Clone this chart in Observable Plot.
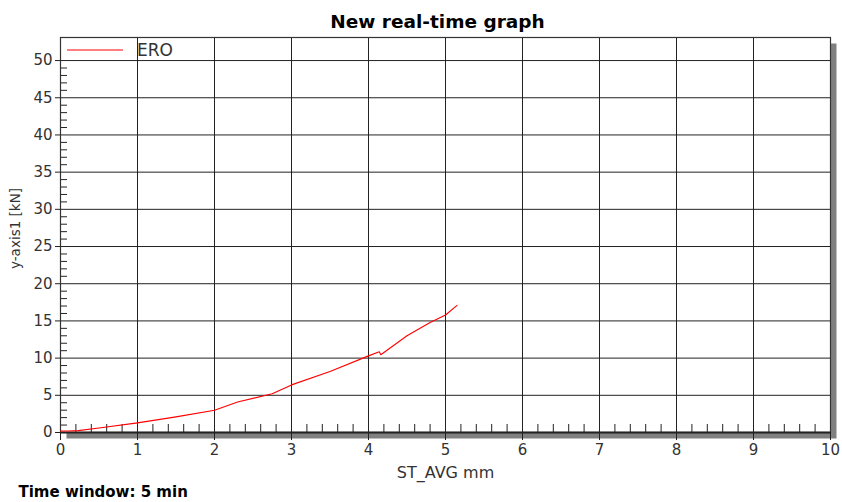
<!DOCTYPE html>
<html>
<head>
<meta charset="utf-8">
<script src="https://cdn.jsdelivr.net/npm/d3@7"></script>
<script src="https://cdn.jsdelivr.net/npm/@observablehq/plot@0.6"></script>
<style>
  html, body { margin: 0; padding: 0; background: #fff; }
</style>
</head>
<body>
<div id="chart"></div>
<script>
const title = "New real-time graph";
const seriesName = "ERO";
const xLabel = "ST_AVG mm";
const yLabel = "y-axis1 [kN]";
const footer = "Time window: 5 min";

const stAvg = [0, 0.1, 0.23, 0.5, 1.0, 1.5, 2.0, 2.3, 2.75, 3.0, 3.5, 4.0, 4.14, 4.16, 4.5, 4.8, 5.0, 5.15];
const force = [0.2, 0.2, 0.25, 0.6, 1.3, 2.1, 3.0, 4.1, 5.2, 6.4, 8.2, 10.3, 10.85, 10.45, 13.0, 14.8, 15.8, 17.1];

const xMajor = [0, 1, 2, 3, 4, 5, 6, 7, 8, 9, 10];
const yMajor = [0, 5, 10, 15, 20, 25, 30, 35, 40, 45, 50];
const xMinor = d3.range(0, 10.001, 0.2).filter(v => Math.abs(v - Math.round(v)) > 1e-6);
const yMinor = d3.range(0, 50.001, 1).filter(v => v % 5 !== 0);

const data = stAvg.map((x, i) => ({x, y: force[i]}));

const W = 842, H = 502, mL = 60, mR = 12, mT = 37, mB = 70;
const plotW = W - mL - mR, plotH = H - mT - mB;

const legend = () => {
  const g = d3.create("svg:g");
  g.append("line").attr("x1", mL + 7).attr("x2", mL + 63).attr("y1", mT + 13).attr("y2", mT + 13)
    .attr("stroke", "#ff0000").attr("stroke-width", 1);
  g.append("text").attr("x", mL + 77).attr("y", mT + 13).attr("dy", "0.35em")
    .attr("text-anchor", "start")
    .attr("font-size", 17).attr("fill", "#333").text(seriesName);
  return g.node();
};

const yTitle = () => {
  const g = d3.create("svg:g");
  g.append("text")
    .attr("transform", `translate(15,${mT + plotH / 2 - 6}) rotate(-90)`)
    .attr("text-anchor", "middle").attr("dy", "0.35em")
    .attr("font-size", 13.5).attr("fill", "#333").text(yLabel);
  return g.node();
};

const chart = Plot.plot({
  width: W, height: H,
  marginLeft: mL, marginRight: mR, marginTop: mT, marginBottom: mB,
  style: {fontFamily: "DejaVu Sans", fontSize: "15px", color: "#222", background: "#fff"},
  x: {domain: [0, 10]},
  y: {domain: [0, 53.1]},
  marks: [
    Plot.frame({fill: "#808080", dx: 6, dy: 6}),
    Plot.frame({fill: "#fff"}),
    Plot.gridX(xMajor, {stroke: "#222", strokeOpacity: 1, strokeWidth: 1}),
    Plot.gridY(yMajor, {stroke: "#222", strokeOpacity: 1, strokeWidth: 1}),
    Plot.tickX(xMinor, {x: d => d, insetTop: plotH - 8, stroke: "#222"}),
    Plot.tickY(yMinor, {y: d => d, insetRight: plotW - 7, stroke: "#222"}),
    Plot.frame({stroke: "#333", strokeWidth: 1.2}),
    Plot.ruleY([0], {stroke: "#222", strokeWidth: 2}),
    Plot.axisX(xMajor, {tickSize: 8, tickPadding: 4, fontSize: 15, label: null, stroke: "#222", fill: "#333"}),
    Plot.axisY(yMajor, {tickSize: 5, tickPadding: 3, fontSize: 15, label: null, stroke: "#222", fill: "#333"}),
    Plot.line(data, {x: "x", y: "y", stroke: "#ff0000", strokeWidth: 1.1}),
    legend,
    yTitle,
    Plot.text([title], {frameAnchor: "top", lineAnchor: "middle", dx: -8, dy: -15, fontWeight: "bold", fontSize: 18.5, fill: "#000"}),
    Plot.text([xLabel], {frameAnchor: "bottom", lineAnchor: "middle", dy: 40, fontSize: 16, fill: "#333"}),
    Plot.text([footer], {frameAnchor: "bottom-left", lineAnchor: "middle", textAnchor: "start", dx: -42, dy: 60, fontWeight: "bold", fontSize: 15, fill: "#000"})
  ]
});
document.getElementById("chart").appendChild(chart);
</script>
</body>
</html>
